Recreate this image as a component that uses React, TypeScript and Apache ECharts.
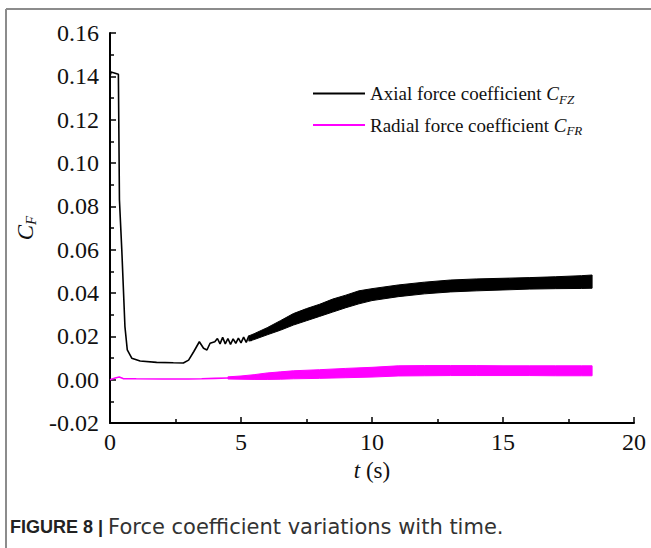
import React, { useEffect, useRef } from "react";
import * as echarts from "echarts";

// Axial force coefficient C_FZ: thin early part (t, value)
const tAxial = [0, 0.04, 0.32, 0.36, 0.45, 0.57, 0.66, 0.83, 1.15, 1.78, 2.42, 2.8, 3.0, 3.2, 3.41, 3.57, 3.7, 3.82, 4.0, 4.1, 4.2, 4.3, 4.4, 4.5, 4.6, 4.7, 4.8, 4.9, 5.0, 5.1, 5.2, 5.3, 5.4];
const cAxial = [0.14, 0.142, 0.141, 0.083, 0.06, 0.0245, 0.0137, 0.0099, 0.0086, 0.008, 0.0078, 0.0077, 0.009, 0.013, 0.0175, 0.0145, 0.0137, 0.0168, 0.0175, 0.019, 0.0165, 0.0195, 0.0165, 0.019, 0.0163, 0.0188, 0.0168, 0.0192, 0.017, 0.0196, 0.0172, 0.0202, 0.0178];
// Axial force coefficient: oscillation envelope (t, lower, upper)
const tAxialBand = [5.3, 5.5, 6.0, 6.5, 7.0, 7.5, 8.0, 8.5, 9.0, 9.5, 10, 11, 12, 13, 14, 15, 16, 17, 18, 18.4];
const axialLow = [0.0178, 0.0185, 0.0207, 0.0228, 0.0252, 0.0272, 0.0292, 0.0312, 0.0332, 0.035, 0.0365, 0.0383, 0.0396, 0.0405, 0.041, 0.0414, 0.0418, 0.042, 0.0421, 0.0422];
const axialHigh = [0.0202, 0.0212, 0.024, 0.0272, 0.0305, 0.0328, 0.0348, 0.0372, 0.039, 0.041, 0.042, 0.0437, 0.045, 0.046, 0.0465, 0.0468, 0.0471, 0.0475, 0.048, 0.0483];

// Radial force coefficient C_FR: thin early part
const tRadial = [0, 0.2, 0.35, 0.5, 1.0, 2.0, 3.0, 3.5, 4.0, 4.5];
const cRadial = [0.0, 0.0008, 0.0012, 0.0005, 0.0004, 0.0003, 0.0003, 0.0004, 0.0006, 0.0008];
// Radial force coefficient: oscillation envelope
const tRadialBand = [4.5, 5.0, 5.5, 6.0, 6.5, 7.0, 8.0, 9.0, 10, 11, 12, 13, 14, 15, 16, 17, 18, 18.4];
const radialLow = [0.0003, 0.0002, 0.0001, 0.0001, 0.0002, 0.0004, 0.0006, 0.0009, 0.0012, 0.0017, 0.0018, 0.0019, 0.0019, 0.0019, 0.0019, 0.0018, 0.0018, 0.0018];
const radialHigh = [0.0013, 0.0017, 0.0023, 0.0031, 0.0036, 0.0041, 0.0046, 0.0052, 0.0057, 0.0064, 0.0065, 0.0065, 0.0065, 0.0064, 0.0064, 0.0064, 0.0064, 0.0064];

const seriesNames = ["Axial force coefficient", "Radial force coefficient"];
const legendSubs = ["FZ", "FR"];
const colors = ["#000000", "#ff00ff"];

const SERIF = "'Liberation Serif', 'Times New Roman', serif";
const SANS = "'Liberation Sans', Arial, sans-serif";
const WIDE_SANS = "'DejaVu Sans', 'Liberation Sans', sans-serif";

function band(name: string, ts: number[], lo: number[], hi: number[], color: string) {
  return {
    type: "custom",
    name,
    silent: true,
    clip: true,
    data: [[ts[0], lo[0]]],
    encode: { x: 0, y: 1 },
    renderItem: (params: any, api: any) => {
      const pts: number[][] = [];
      for (let i = 0; i < ts.length; i++) pts.push(api.coord([ts[i], hi[i]]));
      for (let i = ts.length - 1; i >= 0; i--) pts.push(api.coord([ts[i], lo[i]]));
      return {
        type: "polygon",
        shape: { points: pts },
        style: { fill: color, stroke: color, lineWidth: 1 },
      };
    },
  };
}

export default function App() {
  const ref = useRef<HTMLDivElement>(null);
  useEffect(() => {
    if (!ref.current) return;
    const chart = echarts.init(ref.current, null, { renderer: "svg" });
    const richName = {
      a: { fontFamily: SERIF, fontSize: 19, color: "#111", lineHeight: 24, verticalAlign: "middle" },
      c: { fontFamily: SERIF, fontSize: 19, fontStyle: "italic", color: "#111", lineHeight: 24, verticalAlign: "middle" },
      s: { fontFamily: SERIF, fontSize: 13, fontStyle: "italic", color: "#111", lineHeight: 10, verticalAlign: "bottom" },
    };
    chart.setOption({
      animation: false,
      backgroundColor: "#fff",
      title: {
        text: "{b|FIGURE 8 | }{r|Force coefficient variations with time.}",
        left: 10,
        top: 516,
        padding: 0,
        textStyle: {
          rich: {
            b: { fontFamily: SANS, fontSize: 18, fontWeight: "bold", color: "#222" },
            r: { fontFamily: WIDE_SANS, fontSize: 21, fontWeight: "normal", color: "#333" },
          },
        },
      },
      legend: {
        orient: "vertical",
        left: 308,
        top: 79,
        itemGap: 10,
        itemWidth: 52,
        itemHeight: 2,
        icon: "rect",
        data: seriesNames.map((n, i) => ({ name: n, itemStyle: { color: colors[i] } })),
        formatter: (name: string) => {
          const i = seriesNames.indexOf(name);
          return `{a|${name} }{c|C}{s|${legendSubs[i]}}`;
        },
        textStyle: { rich: richName },
      },
      grid: { left: 110, top: 33, width: 524, height: 390 },
      xAxis: {
        type: "value",
        min: 0,
        max: 20,
        interval: 5,
        name: "{i|t}{n| (s)}",
        nameLocation: "middle",
        nameGap: 33,
        nameTextStyle: {
          rich: {
            i: { fontFamily: SERIF, fontSize: 23, fontStyle: "italic", color: "#111" },
            n: { fontFamily: SERIF, fontSize: 23, color: "#111" },
          },
        },
        axisLine: { onZero: false, lineStyle: { color: "#000", width: 2 } },
        axisTick: { inside: true, length: 6, lineStyle: { color: "#000", width: 1.5 } },
        minorTick: { show: true, splitNumber: 2, length: 4, lineStyle: { color: "#000", width: 1.5 } },
        axisLabel: { fontFamily: SERIF, fontSize: 24, color: "#111", margin: 7 },
        splitLine: { show: false },
      },
      yAxis: {
        type: "value",
        min: -0.02,
        max: 0.16,
        interval: 0.02,
        name: "{c|C}{s|F}",
        nameLocation: "middle",
        nameRotate: 90,
        nameGap: 70,
        nameTextStyle: {
          rich: {
            c: { fontFamily: SERIF, fontSize: 23, fontStyle: "italic", color: "#111", lineHeight: 26, verticalAlign: "middle" },
            s: { fontFamily: SERIF, fontSize: 15, fontStyle: "italic", color: "#111", lineHeight: 10, verticalAlign: "bottom" },
          },
        },
        axisLine: { lineStyle: { color: "#000", width: 2 } },
        axisTick: { inside: true, length: 6, lineStyle: { color: "#000", width: 1.5 } },
        minorTick: { show: true, splitNumber: 2, length: 4, lineStyle: { color: "#000", width: 1.5 } },
        axisLabel: {
          fontFamily: SERIF,
          fontSize: 24,
          color: "#111",
          margin: 11,
          formatter: (v: number) => v.toFixed(2),
        },
        splitLine: { show: false },
      },
      graphic: [
        { type: "line", shape: { x1: 6, y1: 9, x2: 651, y2: 9 }, style: { stroke: "#8c8c8c", lineWidth: 2 } },
        { type: "line", shape: { x1: 6, y1: 9, x2: 6, y2: 548 }, style: { stroke: "#8c8c8c", lineWidth: 2 } },
      ],
      series: [
        band("Radial band", tRadialBand, radialLow, radialHigh, colors[1]),
        {
          type: "line",
          name: seriesNames[1],
          data: tRadial.map((t, i) => [t, cRadial[i]]),
          showSymbol: false,
          color: colors[1],
          lineStyle: { color: colors[1], width: 1.6 },
        },
        band("Axial band", tAxialBand, axialLow, axialHigh, colors[0]),
        {
          type: "line",
          name: seriesNames[0],
          data: tAxial.map((t, i) => [t, cAxial[i]]),
          showSymbol: false,
          color: colors[0],
          lineStyle: { color: colors[0], width: 1.6 },
        },
      ],
    });
    return () => chart.dispose();
  }, []);
  return (
    <div
      ref={ref}
      style={{ position: "fixed", left: 0, top: 0, width: 651, height: 548, background: "#fff" }}
    />
  );
}
